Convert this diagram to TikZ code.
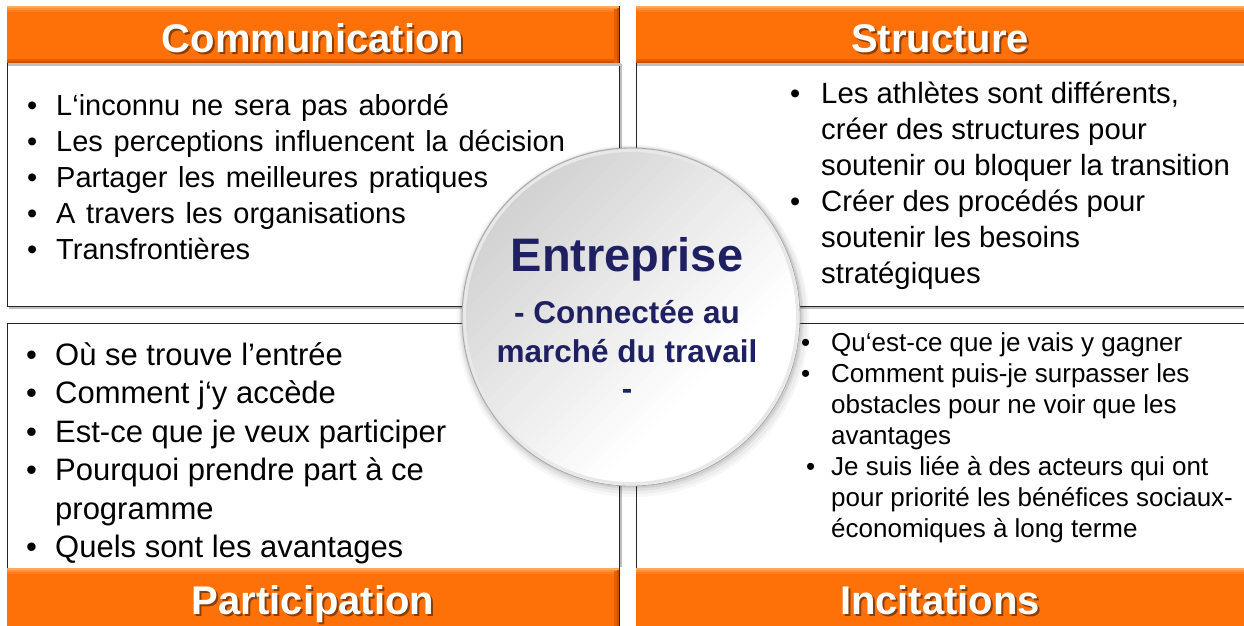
\documentclass[tikz,border=0pt]{standalone}
\usepackage{fontspec}
\setmainfont{Liberation Sans}
\definecolor{orgmain}{RGB}{254,112,8}
\definecolor{orglight}{RGB}{255,170,90}
\definecolor{orgdark}{RGB}{205,80,0}
\definecolor{navy}{RGB}{31,32,98}
\newcommand\wsp{\spaceskip=0.37em plus 0.1em\relax}
\tikzset{
  boxline/.style={draw=black!85, line width=0.9pt},
  boxshadow/.style={draw=black!25, line width=1.6pt},
  ttl/.style={text=white, font=\bfseries\fontsize{40}{44}\selectfont, anchor=base, inner sep=0pt},
  ttlshadow/.style={text=black, opacity=0.45, font=\bfseries\fontsize{40}{44}\selectfont, anchor=base, inner sep=0pt},
  tltext/.style={anchor=base west, inner sep=0pt, font=\fontsize{29}{35}\selectfont},
  trtext/.style={anchor=base west, inner sep=0pt, font=\fontsize{29.3}{35}\selectfont},
  bltext/.style={anchor=base west, inner sep=0pt, font=\fontsize{31}{37}\selectfont},
  brtext/.style={anchor=base west, inner sep=0pt, font=\fontsize{26}{31}\selectfont},
  bul/.style={anchor=base west, inner sep=0pt},
  ctext/.style={anchor=base, inner sep=0pt, text=navy, font=\bfseries\fontsize{31.5}{37}\selectfont},
}
\begin{document}
\begin{tikzpicture}[x=1pt,y=-1pt]
\useasboundingbox (0,0) rectangle (1244,625);
\fill[white] (0,0) rectangle (1244,625);

% box shadows
\draw[boxshadow] (9,308) -- (621,308) -- (621,64);
\draw[boxshadow] (638,308) -- (1246,308);
\draw[boxshadow] (621,567) -- (621,325);
% box borders
\draw[boxline] (7,6) rectangle (619,306);
\draw[boxline] (636,6) rectangle (1250,306);
\draw[boxline] (7,323) rectangle (619,630);
\draw[boxline] (636,323) rectangle (1250,630);

% headers
\foreach \xa/\xb/\ya/\yb in {7/619/6/63, 636/1250/6/63, 7/619/568/630, 636/1250/568/630}{
  \fill[black!25] (\xa+1,\yb) rectangle (\xb+2,\yb+3);
  \fill[orgmain] (\xa,\ya) rectangle (\xb,\yb);
  \fill[orglight] (\xa,\ya) rectangle (\xb,\ya+2);
  \fill[orglight!55!orgmain] (\xa,\ya+2) rectangle (\xb,\ya+4);
  \fill[orglight!25!orgmain] (\xa,\ya+4) rectangle (\xb,\ya+6);
  \fill[orgdark!50!orgmain] (\xa,\yb-4) rectangle (\xb,\yb-2);
  \fill[orgdark] (\xa,\yb-2) rectangle (\xb,\yb);
  \fill[orgdark!50!orgmain] (\xb-5,\ya+3) rectangle (\xb-2,\yb);
  \fill[orgdark] (\xb-2,\ya+2) rectangle (\xb,\yb);
}

% titles
\node[ttlshadow] (t1s) at (315,54.5) {Communication};
\node[ttl] (t1) at (313,52.5) {Communication};
\node[ttlshadow] (t2s) at (942,54.5) {Structure};
\node[ttl] (t2) at (940,52.5) {Structure};
\node[ttlshadow] (t3s) at (315,616) {Participation};
\node[ttl] (t3) at (313,614) {Participation};
\node[ttlshadow] (t4s) at (942,616) {Incitations};
\node[ttl] (t4) at (940,614) {Incitations};

% top-left text
\node[bul, font=\fontsize{29}{35}\selectfont] (tlb0) at (27,115) {•};
\node[tltext] (tl0) at (56,115) {\wsp L‘inconnu ne sera pas abordé};
\node[bul, font=\fontsize{29}{35}\selectfont] (tlb1) at (27,151.2) {•};
\node[tltext] (tl1) at (56,151.2) {\wsp Les perceptions influencent la décision};
\node[bul, font=\fontsize{29}{35}\selectfont] (tlb2) at (27,187.4) {•};
\node[tltext] (tl2) at (56,187.4) {\wsp Partager les meilleures pratiques};
\node[bul, font=\fontsize{29}{35}\selectfont] (tlb3) at (27,223.6) {•};
\node[tltext] (tl3) at (56,223.6) {\wsp A travers les organisations};
\node[bul, font=\fontsize{29}{35}\selectfont] (tlb4) at (27,259.8) {•};
\node[tltext] (tl4) at (56,259.8) {Transfrontières};

% top-right text
\node[bul, font=\fontsize{29}{35}\selectfont] (trb0) at (790,103) {•};
\node[trtext] (tr0) at (821,103) {Les athlètes sont différents,};
\node[trtext] (tr1) at (821,139) {créer des structures pour};
\node[trtext] (tr2) at (821,175) {soutenir ou bloquer la transition};
\node[bul, font=\fontsize{29}{35}\selectfont] (trb1) at (790,211) {•};
\node[trtext] (tr3) at (821,211) {Créer des procédés pour};
\node[trtext] (tr4) at (821,247) {soutenir les besoins};
\node[trtext] (tr5) at (821,283) {stratégiques};

% bottom-left text
\node[bul, font=\fontsize{31}{37}\selectfont] (blb0) at (26,365) {•};
\node[bltext] (bl0) at (55,365) {Où se trouve l’entrée};
\node[bul, font=\fontsize{31}{37}\selectfont] (blb1) at (26,403.5) {•};
\node[bltext] (bl1) at (55,403.5) {Comment j‘y accède};
\node[bul, font=\fontsize{31}{37}\selectfont] (blb2) at (26,442) {•};
\node[bltext] (bl2) at (55,442) {Est-ce que je veux participer};
\node[bul, font=\fontsize{31}{37}\selectfont] (blb3) at (26,480.5) {•};
\node[bltext] (bl3) at (55,480.5) {Pourquoi prendre part à ce};
\node[bltext] (bl4) at (55,519) {programme};
\node[bul, font=\fontsize{31}{37}\selectfont] (blb4) at (26,557.5) {•};
\node[bltext] (bl5) at (55,557.5) {Quels sont les avantages};

% bottom-right text
\node[bul, font=\fontsize{26}{31}\selectfont] (brb0) at (801,351) {•};
\node[brtext] (br0) at (831,351) {Qu‘est-ce que je vais y gagner};
\node[bul, font=\fontsize{26}{31}\selectfont] (brb1) at (801,382.5) {•};
\node[brtext] (br1) at (831,382.5) {Comment puis-je surpasser les};
\node[brtext] (br2) at (831,413.5) {obstacles pour ne voir que les};
\node[brtext] (br3) at (831,444.5) {avantages};
\node[bul, font=\fontsize{26}{31}\selectfont] (brb2) at (806,475.5) {•};
\node[brtext] (br4) at (831,475.5) {Je suis liée à des acteurs qui ont};
\node[brtext] (br5) at (831,506.5) {pour priorité les bénéfices sociaux-};
\node[brtext] (br6) at (831,537.5) {économiques à long terme};

% central circle with soft halo
\fill[black, opacity=0.03] (633,321) circle (176);
\fill[black, opacity=0.04] (633,320) circle (174);
\fill[black, opacity=0.05] (632,319) circle (172);
\fill[black, opacity=0.07] (632,318) circle (170.5);
\node[circle, minimum size=338pt, inner sep=0pt, fill=white] (ent) at (631,317) {};
\begin{scope}
  \clip (631,317) circle (169);
  \foreach \s [evaluate=\s as \g using {max(0,18*(90-\s)/260)}] in {-170,-162,...,170}{
    \fill[black!\g] (631+\s*0.7071+220*0.7071, 317+\s*0.7071-220*0.7071)
      -- (631+\s*0.7071-220*0.7071, 317+\s*0.7071+220*0.7071)
      -- (631+\s*0.7071+8.6*0.7071-220*0.7071, 317+\s*0.7071+8.6*0.7071+220*0.7071)
      -- (631+\s*0.7071+8.6*0.7071+220*0.7071, 317+\s*0.7071+8.6*0.7071-220*0.7071) -- cycle;
  }
\end{scope}
\draw[black!9, line width=3pt] (ent.center) circle (166.5);
\draw[black!35, line width=0.8pt] (ent.center) circle (169);
\node[ctext, font=\bfseries\fontsize{47}{52}\selectfont] (c0) at (627,271) {Entreprise};
\node[ctext] (c1) at (627,323.5) {- Connectée au};
\node[ctext] (c2) at (627,362) {marché du travail};
\node[ctext] (c3) at (627,399) {-};
\end{tikzpicture}
\end{document}
